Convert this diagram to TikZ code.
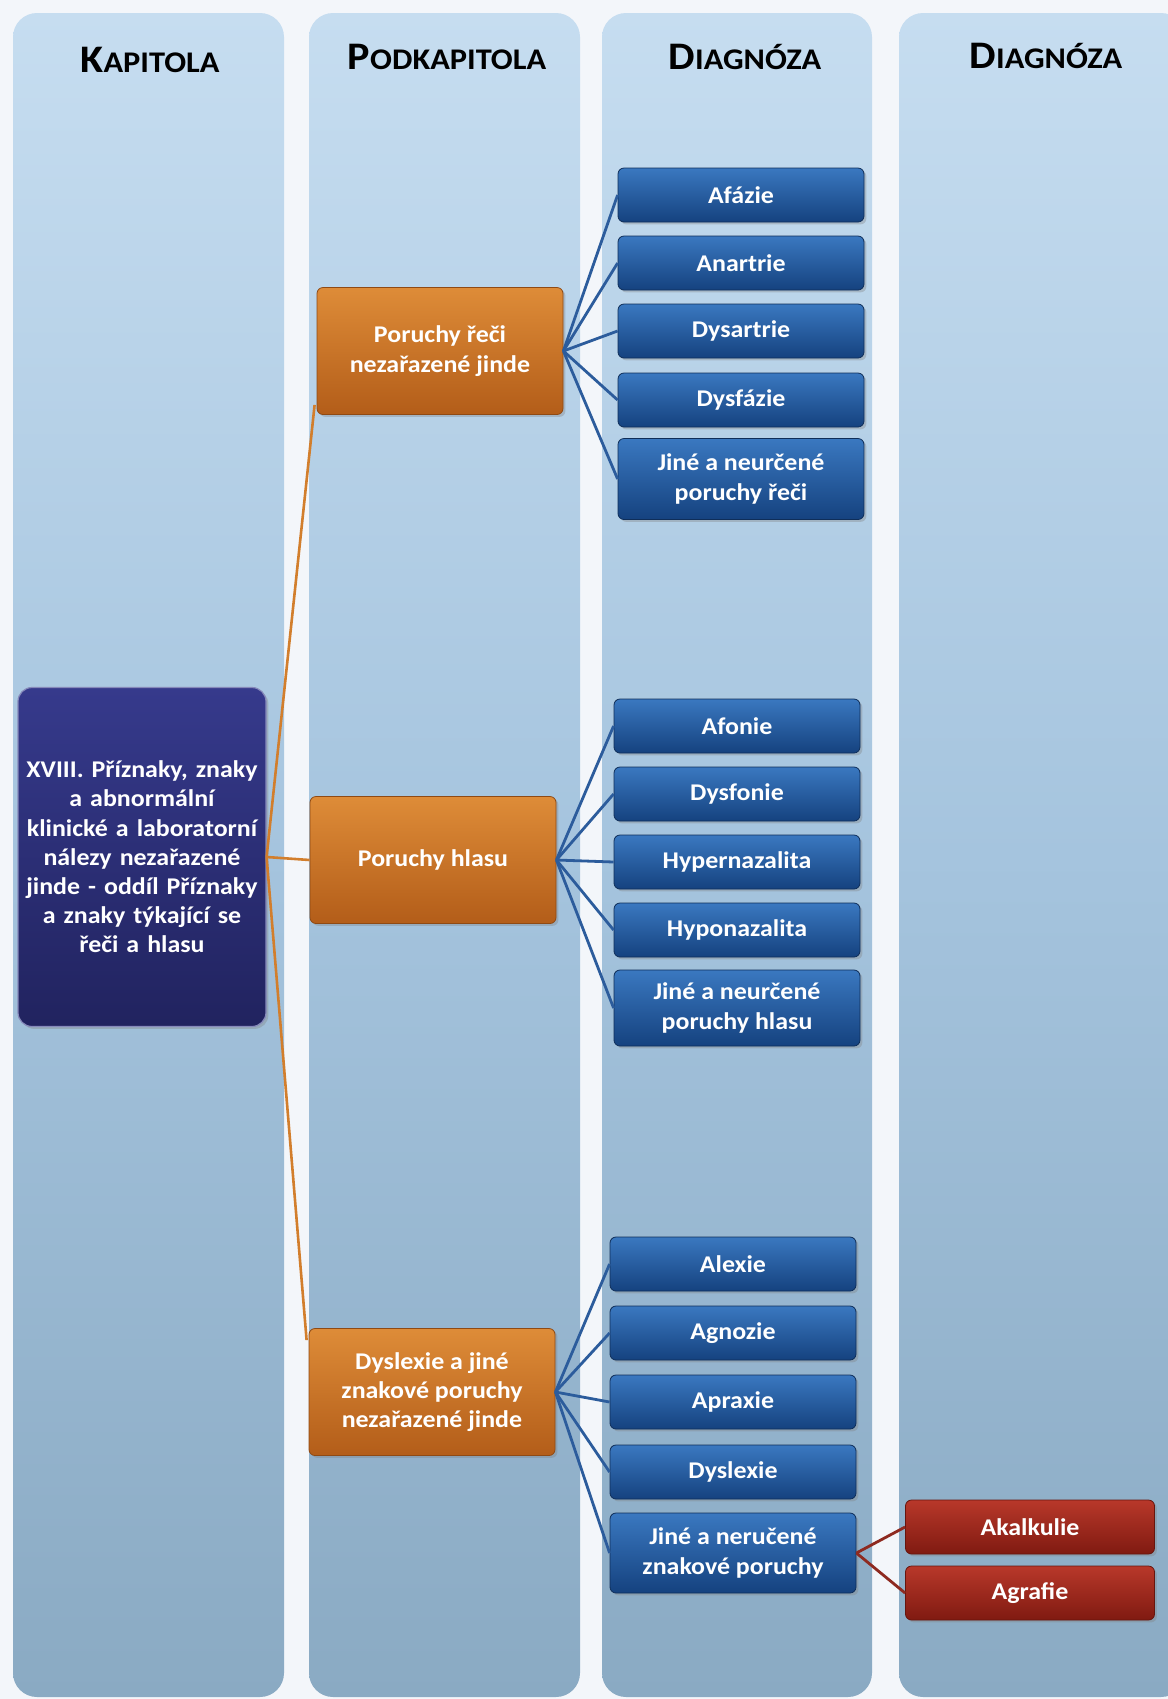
\documentclass[tikz,border=0pt]{standalone}
\usepackage{fontspec}
\setmainfont{Carlito}[FakeStretch=1.08]
\usetikzlibrary{shadows}
\definecolor{bgc}{HTML}{F3F6FA}
\definecolor{colTop}{HTML}{C6DDF0}
\definecolor{colMid}{HTML}{A5C4DE}
\definecolor{colBot}{HTML}{8AAAC3}
\definecolor{navyTop}{HTML}{363A8C}
\definecolor{navyBot}{HTML}{21235F}
\definecolor{oraTop}{HTML}{DE8C38}
\definecolor{oraBot}{HTML}{B35D19}
\definecolor{bluTop}{HTML}{3A78C0}
\definecolor{bluBot}{HTML}{15427F}
\definecolor{redTop}{HTML}{B8382A}
\definecolor{redBot}{HTML}{801A11}
\definecolor{oraLine}{HTML}{D27E2C}
\definecolor{bluLine}{HTML}{2C5C9C}
\definecolor{redLine}{HTML}{8E2A20}
\tikzset{
  col/.style={rounded corners=12pt, top color=colTop, bottom color=colBot, middle color=colMid, draw=none},
  hdr/.style={inner sep=0pt, font=\bfseries},
  box/.style={rounded corners=3pt, text=white, align=center, inner sep=0pt,
    font=\bfseries\fontsize{12}{15}\selectfont,
    drop shadow={shadow xshift=1.2pt, shadow yshift=-1.2pt, opacity=0.35}},
  bluebox/.style={box, top color=bluTop, bottom color=bluBot, draw=bluBot!70!black, line width=0.4pt, minimum width=123pt, minimum height=27pt},
  orabox/.style={box, top color=oraTop, bottom color=oraBot, draw=oraBot!80!black, line width=0.4pt, minimum width=123pt, minimum height=63.5pt},
  redbox/.style={box, top color=redTop, bottom color=redBot, draw=redBot!80!black, line width=0.4pt, minimum width=124.5pt, minimum height=27pt},
  mainbox/.style={box, rounded corners=7pt, top color=navyTop, bottom color=navyBot, draw=navyTop!60!white, line width=0.6pt, minimum width=122.5pt, minimum height=169.5pt, text width=124pt, font=\bfseries\fontsize{12}{14.6}\selectfont},
  oline/.style={draw=oraLine, line width=1.3pt},
  bline/.style={draw=bluLine, line width=1.4pt},
  rline/.style={draw=redLine, line width=1.4pt},
}
\newcommand{\hdrK}{{\fontsize{19.5}{19.5}\selectfont K}{\fontsize{15}{15}\selectfont APITOLA}}
\newcommand{\hdrP}{{\fontsize{19.5}{19.5}\selectfont P}{\fontsize{15}{15}\selectfont ODKAPITOLA}}
\newcommand{\hdrD}{{\fontsize{19.5}{19.5}\selectfont D}{\fontsize{15}{15}\selectfont IAGNÓZA}}
\begin{document}
\begin{tikzpicture}[x=0.5pt,y=-0.5pt]
\useasboundingbox (0,0) rectangle (1168,1699);
\fill[bgc] (0,0) rectangle (1168,1699);
% columns
\path[col] (13,13) rectangle (284,1697);
\path[col] (309,13) rectangle (580,1697);
\path[col] (602,13) rectangle (872,1697);
\path[col] (899,13) rectangle (1185,1697);
% headers
\node[hdr] (h1) at (150,60) {\hdrK};
\node[hdr] (h2) at (447,57) {\hdrP};
\node[hdr] (h3) at (745,57) {\hdrD};
\node[hdr] (h4) at (1046,56) {\hdrD};
% main
\node[mainbox] (main) at (142,857) {XVIII. Příznaky, znaky\\ a abnormální\\ klinické a laboratorní\\ nálezy nezařazené\\ jinde - oddíl Příznaky\\ a znaky týkající se\\ řeči a hlasu};
% orange
\node[orabox] (o1) at (440,351) {Poruchy řeči\\ nezařazené jinde};
\node[orabox] (o2) at (433,860) {Poruchy hlasu};
\node[orabox, font=\bfseries\fontsize{12}{14.4}\selectfont] (o3) at (432,1392) {Dyslexie a jiné\\ znakové poruchy\\ nezařazené jinde};
% blue group 1
\node[bluebox] (b11) at (741,195) {Afázie};
\node[bluebox] (b12) at (741,263) {Anartrie};
\node[bluebox] (b13) at (741,331) {Dysartrie};
\node[bluebox] (b14) at (741,400) {Dysfázie};
\node[bluebox, minimum height=40.5pt] (b15) at (741,479) {Jiné a neurčené\\ poruchy řeči};
% blue group 2
\node[bluebox] (b21) at (737,726) {Afonie};
\node[bluebox] (b22) at (737,794) {Dysfonie};
\node[bluebox] (b23) at (737,862) {Hypernazalita};
\node[bluebox] (b24) at (737,930) {Hyponazalita};
\node[bluebox, minimum height=38pt] (b25) at (737,1008) {Jiné a neurčené\\ poruchy hlasu};
% blue group 3
\node[bluebox] (b31) at (733,1264) {Alexie};
\node[bluebox] (b32) at (733,1333) {Agnozie};
\node[bluebox] (b33) at (733,1402) {Apraxie};
\node[bluebox] (b34) at (733,1472) {Dyslexie};
\node[bluebox, minimum height=40pt] (b35) at (733,1553) {Jiné a neručené\\ znakové poruchy};
% red
\node[redbox] (r1) at (1030,1527) {Akalkulie};
\node[redbox] (r2) at (1030,1593) {Agrafie};
% connectors
\draw[oline] (main.east) -- (o2.west);
\draw[oline] (main.east) -- ([xshift=-1pt,yshift=5pt]o1.south west);
\draw[oline] (main.east) -- ([xshift=-1pt,yshift=-6pt]o3.north west);
\foreach \i in {1,...,5}{
  \draw[bline] (o1.east) -- (b1\i.west);
  \draw[bline] (o2.east) -- (b2\i.west);
  \draw[bline] (o3.east) -- (b3\i.west);
}
\draw[rline] (b35.east) -- (r1.west);
\draw[rline] (b35.east) -- (r2.west);
\end{tikzpicture}
\end{document}
